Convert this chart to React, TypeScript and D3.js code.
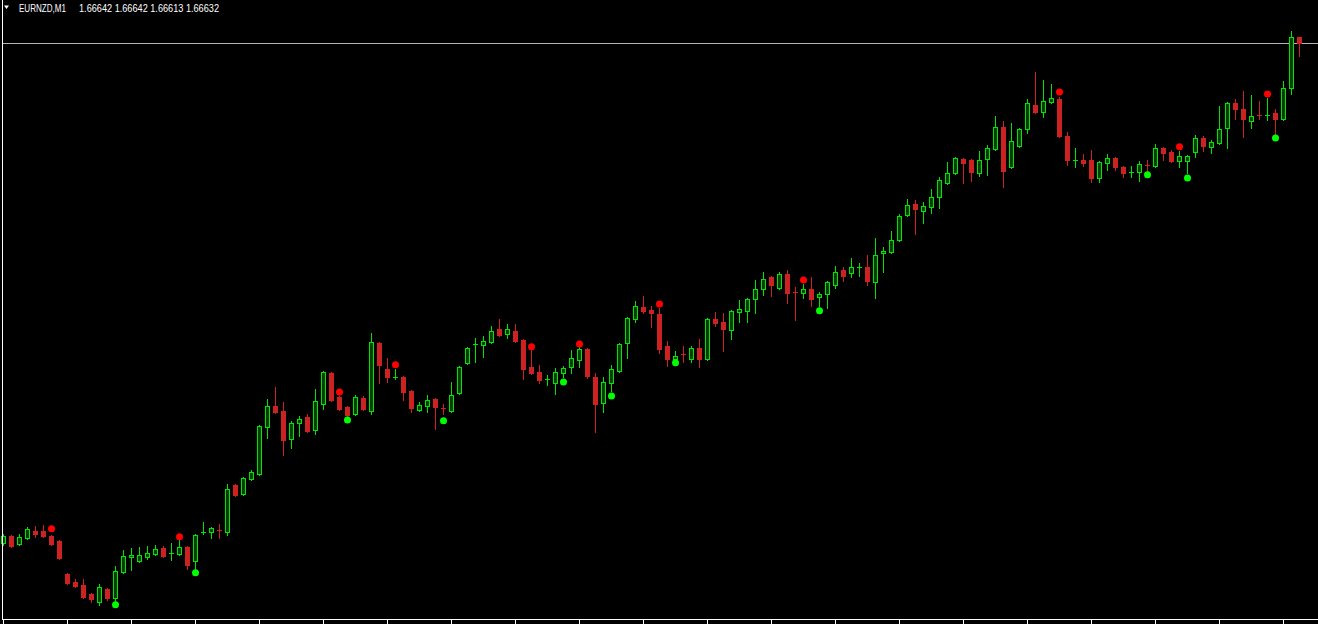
import React from "react";
import * as d3 from "d3";

// EURNZD M1, 163 candles (oldest first)
const symbol = "EURNZD";
const period = "M1";

const open = [
  1.65883, 1.65893, 1.65881, 1.6589, 1.65901, 1.65901, 1.65893, 1.65886, 1.65836, 1.65824,
  1.6582, 1.65806, 1.65794, 1.65814, 1.658, 1.65839, 1.65862, 1.65856, 1.65862, 1.65866,
  1.65875, 1.65866, 1.65866, 1.65877, 1.65856, 1.65898, 1.65899, 1.65902, 1.65899, 1.6597,
  1.65956, 1.65979, 1.65986, 1.66057, 1.66088, 1.66081, 1.66039, 1.66063, 1.66072, 1.66052,
  1.66091, 1.66138, 1.66102, 1.66087, 1.66076, 1.661, 1.66081, 1.66183, 1.66144, 1.6613,
  1.66132, 1.66111, 1.66082, 1.66088, 1.66099, 1.66085, 1.66081, 1.66108, 1.66153, 1.6618,
  1.6618, 1.66184, 1.66204, 1.66196, 1.66201, 1.66187, 1.66147, 1.66139, 1.66127, 1.66123,
  1.66138, 1.66147, 1.66157, 1.66174, 1.66132, 1.66093, 1.66123, 1.66141, 1.66183, 1.66219,
  1.66237, 1.66232, 1.66226, 1.66178, 1.66159, 1.66166, 1.66159, 1.66175, 1.66159, 1.66219,
  1.66214, 1.66202, 1.66229, 1.66231, 1.66249, 1.66264, 1.66282, 1.66265, 1.66286, 1.66259,
  1.66258, 1.66264, 1.66252, 1.66256, 1.6627, 1.66292, 1.66288, 1.66295, 1.66297, 1.66274,
  1.66318, 1.66319, 1.66337, 1.66375, 1.66391, 1.66381, 1.66387, 1.66402, 1.66423, 1.66438,
  1.66459, 1.66457, 1.66438, 1.66459, 1.66474, 1.66507, 1.66447, 1.66478, 1.66504, 1.6654,
  1.66529, 1.66544, 1.66549, 1.66493, 1.66456, 1.66457, 1.66457, 1.6643, 1.66453, 1.6646,
  1.66447, 1.66438, 1.66439, 1.6645, 1.66448, 1.66475, 1.66469, 1.66456, 1.66456, 1.66469,
  1.6649, 1.66477, 1.66483, 1.66505, 1.66543, 1.66534, 1.66516, 1.66525, 1.66523, 1.66528,
  1.66519, 1.66565, 1.66642,
];
const high = [
  1.65896, 1.65895, 1.65896, 1.65907, 1.65908, 1.6591, 1.65895, 1.65887, 1.65838, 1.65829,
  1.65829, 1.65808, 1.65821, 1.65815, 1.65848, 1.65872, 1.65875, 1.65877, 1.65878, 1.6588,
  1.65878, 1.65883, 1.65887, 1.65878, 1.65896, 1.65914, 1.65907, 1.65911, 1.65971, 1.65971,
  1.65982, 1.65992, 1.6606, 1.66099, 1.66117, 1.66094, 1.66066, 1.66073, 1.66076, 1.66114,
  1.66141, 1.66139, 1.66103, 1.66088, 1.66105, 1.66103, 1.66198, 1.66184, 1.6616, 1.66144,
  1.66133, 1.66112, 1.66094, 1.66105, 1.661, 1.66091, 1.66124, 1.66148, 1.66177, 1.6619,
  1.66193, 1.66208, 1.66219, 1.66211, 1.66211, 1.66189, 1.66172, 1.6615, 1.66135, 1.66145,
  1.66148, 1.66172, 1.66177, 1.66175, 1.66138, 1.66132, 1.6615, 1.66183, 1.66222, 1.66246,
  1.66253, 1.66238, 1.66235, 1.66186, 1.66171, 1.66178, 1.66178, 1.66189, 1.6622, 1.66229,
  1.66228, 1.66232, 1.66247, 1.6625, 1.66277, 1.66289, 1.66283, 1.66289, 1.66292, 1.66267,
  1.66271, 1.66282, 1.66259, 1.66276, 1.66298, 1.66297, 1.6631, 1.66303, 1.66315, 1.6634,
  1.66327, 1.66351, 1.66376, 1.66399, 1.66397, 1.66394, 1.66414, 1.66432, 1.66454, 1.66462,
  1.6646, 1.66459, 1.66471, 1.6648, 1.66523, 1.66516, 1.66513, 1.66505, 1.66549, 1.66589,
  1.66577, 1.66571, 1.66552, 1.66499, 1.66475, 1.66466, 1.66472, 1.66456, 1.66466, 1.66462,
  1.66448, 1.66448, 1.66456, 1.66457, 1.66481, 1.66477, 1.66472, 1.66471, 1.66465, 1.66495,
  1.66493, 1.66487, 1.66538, 1.66544, 1.66549, 1.66561, 1.66555, 1.66546, 1.6655, 1.66534,
  1.66576, 1.66651, 1.66642,
];
const low = [
  1.6588, 1.65877, 1.6588, 1.65889, 1.65892, 1.65892, 1.6588, 1.65859, 1.65821, 1.65817,
  1.658, 1.65794, 1.6579, 1.65797, 1.65796, 1.65838, 1.65842, 1.65854, 1.65859, 1.65865,
  1.65862, 1.65857, 1.65865, 1.65844, 1.65844, 1.65896, 1.6589, 1.6589, 1.65895, 1.65953,
  1.65955, 1.65977, 1.65985, 1.6604, 1.66078, 1.66015, 1.66025, 1.66043, 1.66049, 1.66046,
  1.66084, 1.66096, 1.66082, 1.66073, 1.66075, 1.66082, 1.66076, 1.66123, 1.66124, 1.66129,
  1.66097, 1.66079, 1.66081, 1.66079, 1.66054, 1.66076, 1.66079, 1.66106, 1.66151, 1.66154,
  1.66162, 1.66183, 1.66193, 1.6619, 1.66184, 1.66129, 1.66136, 1.66123, 1.6612, 1.66106,
  1.66132, 1.66138, 1.66147, 1.6613, 1.66049, 1.66079, 1.66111, 1.66139, 1.6616, 1.66214,
  1.66228, 1.66207, 1.66168, 1.66148, 1.66157, 1.66154, 1.66154, 1.66147, 1.66157, 1.66208,
  1.66171, 1.66189, 1.66214, 1.66214, 1.66228, 1.66255, 1.66253, 1.66264, 1.66243, 1.66217,
  1.6625, 1.66238, 1.66238, 1.66235, 1.66265, 1.66276, 1.66282, 1.66283, 1.6627, 1.6625,
  1.66289, 1.66318, 1.66336, 1.66373, 1.66346, 1.66363, 1.66378, 1.66385, 1.66421, 1.66436,
  1.66423, 1.66426, 1.66433, 1.66435, 1.66472, 1.66417, 1.66445, 1.66477, 1.66498, 1.66528,
  1.66522, 1.66543, 1.66492, 1.6645, 1.66447, 1.66448, 1.66424, 1.66424, 1.66442, 1.66442,
  1.66432, 1.66432, 1.66426, 1.66439, 1.66447, 1.66457, 1.66454, 1.66447, 1.66438, 1.66462,
  1.66471, 1.66468, 1.66481, 1.66475, 1.66519, 1.66492, 1.66505, 1.66519, 1.66517, 1.66495,
  1.66517, 1.66556, 1.66613,
];
const close = [
  1.65893, 1.65878, 1.65892, 1.65904, 1.65896, 1.65893, 1.65881, 1.6586, 1.65823, 1.65818,
  1.65802, 1.65799, 1.65817, 1.658, 1.65841, 1.65863, 1.65865, 1.65865, 1.65868, 1.65874,
  1.65863, 1.65868, 1.65877, 1.6585, 1.65895, 1.65899, 1.65905, 1.65901, 1.65964, 1.65955,
  1.6598, 1.65989, 1.66058, 1.66088, 1.66079, 1.66037, 1.66063, 1.66069, 1.66051, 1.66096,
  1.66139, 1.66097, 1.66084, 1.66075, 1.66102, 1.66084, 1.66184, 1.6615, 1.66132, 1.66132,
  1.66109, 1.66085, 1.6609, 1.66097, 1.66087, 1.66084, 1.66105, 1.66147, 1.66175, 1.66181,
  1.66186, 1.66201, 1.66195, 1.66204, 1.66186, 1.66144, 1.66138, 1.66127, 1.66129, 1.66139,
  1.66145, 1.6616, 1.66174, 1.66133, 1.66091, 1.66124, 1.66144, 1.66181, 1.6622, 1.66238,
  1.66231, 1.66228, 1.66174, 1.66159, 1.66163, 1.66165, 1.66175, 1.66159, 1.66219, 1.66213,
  1.66204, 1.66231, 1.66234, 1.66249, 1.66264, 1.66279, 1.6627, 1.66286, 1.66258, 1.66258,
  1.66264, 1.66249, 1.66256, 1.66274, 1.66289, 1.66283, 1.66297, 1.66297, 1.66276, 1.66315,
  1.66321, 1.66337, 1.66373, 1.6639, 1.66384, 1.66388, 1.66402, 1.66427, 1.66438, 1.6646,
  1.66453, 1.66439, 1.66457, 1.66475, 1.66507, 1.66441, 1.66486, 1.66504, 1.66543, 1.66529,
  1.66546, 1.6655, 1.66493, 1.66457, 1.66457, 1.66453, 1.6643, 1.66454, 1.6646, 1.66447,
  1.66438, 1.66439, 1.66451, 1.66448, 1.66475, 1.66468, 1.66456, 1.66463, 1.66463, 1.6649,
  1.66478, 1.66484, 1.66504, 1.66543, 1.66534, 1.66519, 1.66523, 1.66523, 1.66525, 1.66519,
  1.66565, 1.66642, 1.66632,
];

// indicator dots: candle index + price
const upDotIdx = [6, 22, 42, 49, 66, 72, 82, 100, 132, 147, 158];
const upDotPrice = [1.65904, 1.65892, 1.66109, 1.6615, 1.66177, 1.66181, 1.66241, 1.66277, 1.66559, 1.66477, 1.66556];
const dnDotIdx = [14, 24, 43, 55, 70, 76, 84, 102, 143, 148, 159];
const dnDotPrice = [1.6579, 1.65838, 1.66067, 1.66066, 1.66124, 1.66103, 1.66153, 1.66231, 1.66435, 1.6643, 1.6649];

const W = 1318;
const H = 624;
const bull = "#00e400";
const bullInside = "#0b3a0b";
const bear = "#cc2222";

const App = () => {
  const n = close.length;
  const last = n - 1;

  const x = d3.scaleLinear().domain([0, last]).range([3, 3 + 8 * last]);
  const y = d3.scaleLinear().domain([1.65761, 1.66697]).range([H, 0]);
  const ry = (p: number) => Math.round(y(p));

  const axisY = 619;
  const ticks = d3.range(0, n, 8);
  const fmt = (v: number) => v.toFixed(5);
  const priceY = ry(close[last]) + 0.5;

  return (
    <svg
      width={W}
      height={H}
      style={{ position: "absolute", left: 0, top: 0, background: "#000" }}
    >
      <rect width={W} height={H} fill="#000" />

      {/* current price line */}
      <line x1={2} x2={W} y1={priceY} y2={priceY} stroke="#b4b4b4" strokeWidth={1} shapeRendering="crispEdges" />

      <g shapeRendering="crispEdges">
        {d3.range(n).map((i) => {
          const cx = Math.round(x(i));
          const up = close[i] >= open[i];
          const col = up ? bull : bear;
          const top = ry(Math.max(open[i], close[i]));
          const bot = ry(Math.min(open[i], close[i]));
          const hi = ry(high[i]);
          const lo = ry(low[i]);
          let body;
          if (bot - top <= 1) {
            body = (
              <line x1={cx - 2} x2={cx + 3} y1={top + 0.5} y2={top + 0.5} stroke={col} />
            );
          } else if (up) {
            body = (
              <rect x={cx - 1.5} y={top + 0.5} width={4} height={bot - top} fill={bullInside} stroke={col} />
            );
          } else {
            body = <rect x={cx - 2} y={top} width={5} height={bot - top + 1} fill={col} />;
          }
          return (
            <g key={i}>
              <line x1={cx + 0.5} x2={cx + 0.5} y1={hi} y2={lo + 1} stroke={col} />
              {body}
            </g>
          );
        })}
      </g>

      {upDotIdx.map((d, k) => (
        <circle key={"u" + k} cx={Math.round(x(d)) + 0.5} cy={y(upDotPrice[k])} r={3.5} fill="#ff0000" />
      ))}
      {dnDotIdx.map((d, k) => (
        <circle key={"d" + k} cx={Math.round(x(d)) + 0.5} cy={y(dnDotPrice[k])} r={3.5} fill="#00ff00" />
      ))}

      {/* frame: left edge + time axis */}
      <g shapeRendering="crispEdges" stroke="#fff">
        <line x1={2.5} x2={2.5} y1={0} y2={axisY + 1} />
        <line x1={2} x2={W} y1={axisY + 0.5} y2={axisY + 0.5} />
        {ticks.map((t) => (
          <line
            key={t}
            x1={Math.round(x(t)) + 0.5}
            x2={Math.round(x(t)) + 0.5}
            y1={axisY}
            y2={H}
          />
        ))}
      </g>

      {/* header */}
      <polygon points="4,5.5 9,5.5 6.5,9" fill="#fff" />
      <text
        x={19}
        y={12}
        fill="#fff"
        fontFamily="Liberation Sans, Arial, sans-serif"
        fontSize={10}
        textLength={47}
        lengthAdjust="spacingAndGlyphs"
      >
        {`${symbol},${period}`}
      </text>
      <text
        x={79}
        y={12}
        fill="#fff"
        fontFamily="Liberation Sans, Arial, sans-serif"
        fontSize={10}
        textLength={140}
        lengthAdjust="spacingAndGlyphs"
      >
        {`${fmt(open[last])} ${fmt(high[last])} ${fmt(low[last])} ${fmt(close[last])}`}
      </text>
    </svg>
  );
};

export default App;
